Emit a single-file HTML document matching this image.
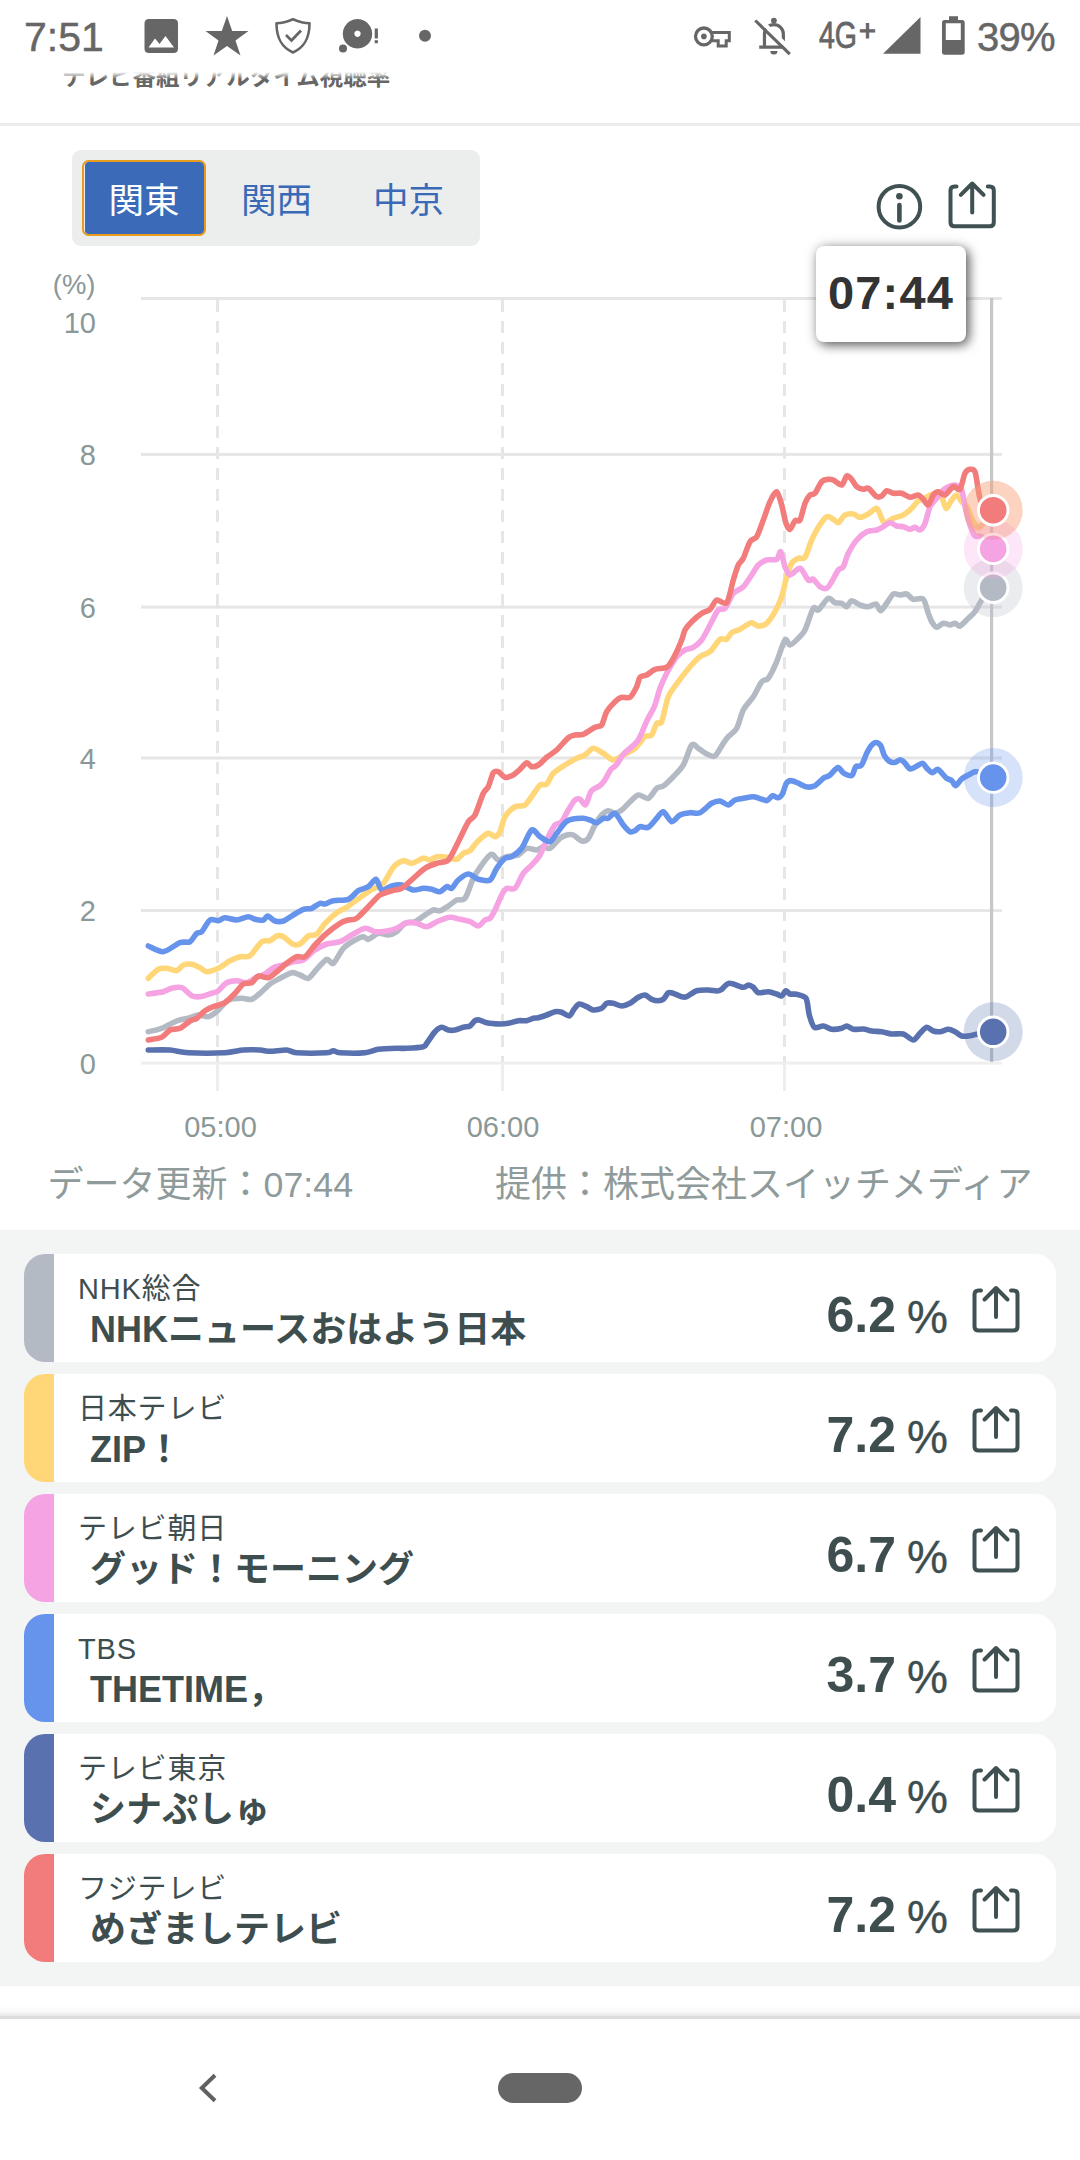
<!DOCTYPE html>
<html lang="ja"><head><meta charset="utf-8"><title>テレビ番組リアルタイム視聴率</title>
<style>
html,body{margin:0;padding:0;}
body{width:1080px;height:2160px;position:relative;overflow:hidden;background:#fff;font-family:"Liberation Sans","Noto Sans CJK JP",sans-serif;}
.abs{position:absolute;}
.sb{position:absolute;color:#666;-webkit-text-stroke:.5px #666;font-size:41px;line-height:40px;white-space:nowrap;}
.chart{position:absolute;left:0;top:0;}
.hdr{position:absolute;left:62px;top:61.5px;width:400px;height:30px;font-size:23.5px;line-height:30px;font-weight:bold;color:#666;white-space:nowrap;}
.hdrmask{position:absolute;left:0;top:0;width:1080px;height:80px;background:linear-gradient(#fff 0,#fff 72px,rgba(255,255,255,0) 79px);}
.divider{position:absolute;left:0;top:123px;width:1080px;height:3px;background:#EBEDED;}
.tabs{position:absolute;left:72px;top:150px;width:408px;height:96px;background:#ECEEEE;border-radius:9px;}
.tab{position:absolute;top:10px;height:75px;line-height:83px;font-size:35.6px;color:#3A6AB7;text-align:center;width:123px;white-space:nowrap;}
.tab.on{left:12.5px;top:12px;width:119px;height:71.5px;line-height:79px;background:#3B6AB8;color:#fff;border-radius:3.5px;}
.tab.on::before{content:"";position:absolute;left:-2.2px;top:-2.2px;right:-2.2px;bottom:-2.2px;border:2.2px solid #E79C1E;border-radius:6.5px;}
.tip{position:absolute;left:816px;top:246px;width:150px;height:96px;background:#fff;border-radius:8px;box-shadow:3px 3px 11px rgba(0,0,0,.62),0 0 16px rgba(0,0,0,.10);font-weight:bold;font-size:47px;line-height:93.500px;text-align:center;color:#333;letter-spacing:1.2px;}
.foot{position:absolute;top:1160px;font-size:36px;line-height:50px;color:#8F9B9B;white-space:nowrap;}
.sec{position:absolute;left:0;top:1230px;width:1080px;height:756px;background:#F3F5F5;}
.card{position:absolute;left:24px;width:1032px;height:108px;background:#fff;border-radius:21px;overflow:hidden;color:#3E4E4F;}
.strip{position:absolute;left:0;top:0;width:30px;height:108px;}
.st{position:absolute;left:54px;top:15px;font-size:29px;line-height:40px;letter-spacing:.8px;white-space:nowrap;}
.pr{position:absolute;left:66px;top:52px;font-size:36px;line-height:48px;font-weight:bold;white-space:nowrap;}
.val{position:absolute;right:160px;top:30.5px;font-size:50px;line-height:60px;font-weight:bold;white-space:nowrap;}
.pct{position:absolute;left:883px;top:37px;font-size:46px;-webkit-text-stroke:.4px #3E4E4F;line-height:52px;white-space:nowrap;}
.sh{position:absolute;left:946px;top:30px;}
.navsh{position:absolute;left:0;top:2005px;width:1080px;height:13.5px;background:linear-gradient(rgba(0,0,0,0) 0,rgba(0,0,0,.025) 45%,rgba(0,0,0,.09) 78%,rgba(0,0,0,.135) 82%,rgba(0,0,0,.135) 100%);}
.pill{position:absolute;left:498px;top:2073px;width:84px;height:30px;border-radius:15px;background:#666;}
</style></head><body>
<div class="hdr">テレビ番組リアルタイム視聴率</div>
<div class="hdrmask"></div>
<!-- status bar -->
<div class="sb" style="left:24px;top:17px;">7:51</div>
<svg class="abs" style="left:0;top:0" width="1080" height="72" viewBox="0 0 1080 72" fill="#666">
<path fill-rule="evenodd" d="M149 19 H173.500 Q178 19 178 23.500 V48.500 Q178 53 173.500 53 H149 Q144.500 53 144.500 48.500 V23.500 Q144.500 19 149 19 Z M148.500 47.500 H174 L165.500 36 L159.500 44 L155 38.500 Z"/>
<path d="M227 16 L232.200 31 L248.500 31 L235.500 40.500 L240.500 55.500 L227 46 L213.500 55.500 L218.500 40.500 L205.500 31 L221.800 31 Z"/>
<path fill="none" stroke="#666" stroke-width="2.600" stroke-linejoin="round" d="M293 19.300 Q284 23.300 276.500 23.300 C276.500 39 282 47.500 293 52.500 C304 47.500 309.500 39 309.500 23.300 Q302 23.300 293 19.300 Z"/>
<path fill="none" stroke="#666" stroke-width="2.800" d="M286 35 L291.500 40.500 L301 30.500"/>
<path fill-rule="evenodd" d="M357.500 19 A14.750 14.750 0 1 1 357.490 19 Z M357.500 30.500 A3.200 3.200 0 1 0 357.510 30.500 Z"/>
<circle cx="343" cy="48.500" r="4"/>
<rect x="374.700" y="28.500" width="3.200" height="10"/><rect x="374.700" y="40.200" width="3.200" height="3"/>
<circle cx="425" cy="35.800" r="6"/>
<!-- key -->
<circle cx="703.900" cy="36.400" r="8.400" fill="none" stroke="#666" stroke-width="3.300"/><circle cx="703.900" cy="36.400" r="2.800"/>
<path fill="none" stroke="#666" stroke-width="3" d="M711.800 32.600 H729.300 V40.800 H726.200 V46 H718.200 V40.800 H711.800"/>
<!-- bell off -->
<circle cx="773.900" cy="20.600" r="2.900"/>
<path fill="none" stroke="#666" stroke-width="3.200" d="M759.200 47.200 H788.500 M764.450 47.200 V34 A9.450 9.450 0 0 1 783.350 34 V47.200"/>
<path d="M770.300 51 a3.600 3.600 0 0 0 7.200 0 z"/>
<path stroke="#fff" stroke-width="4.400" d="M754.500 14.500 L795 54.100"/>
<path stroke="#666" stroke-width="3.100" d="M755.300 20.500 L789.800 54.200"/>
<!-- signal -->
<path d="M920.500 17 V53.800 H883 Z"/>
<!-- battery -->
<path fill-rule="evenodd" d="M949 16.200 H958 V20 H962 Q964.700 20 964.700 22.700 V52 Q964.700 54.700 962 54.700 H944.700 Q942 54.700 942 52 V22.700 Q942 20 944.700 20 H949 Z M945.800 23.300 V40 H960.800 V23.300 Z"/>
</svg>
<div class="sb" style="left:819px;top:16px;font-size:37px;transform:scaleX(.77);transform-origin:left;-webkit-text-stroke:.8px #666;">4G</div>
<div class="sb" style="left:859px;top:10.5px;font-size:29px;-webkit-text-stroke:1.1px #666;">+</div>
<div class="sb" style="left:977px;top:17px;font-size:40px;letter-spacing:-.8px;">39%</div>
<div class="divider"></div>
<div class="tabs"><div class="tab on">関東</div><div class="tab" style="left:143px">関西</div><div class="tab" style="left:275px">中京</div></div>
<svg class="abs" style="left:870px;top:176px" width="140" height="60" viewBox="870 176 140 60" fill="none" stroke="#3F5152" stroke-width="4" stroke-linecap="round" stroke-linejoin="round">
<circle cx="899.400" cy="206.700" r="20.800"/><path d="M899.400 205 V220.500" stroke-width="4.600"/><circle cx="899.400" cy="196.300" r="3.300" fill="#3F5152" stroke="none"/>
<path d="M956.500 186.500 H954.500 Q950.500 186.500 950.500 190.500 V222.300 Q950.500 226.300 954.500 226.300 H989.800 Q993.800 226.300 993.800 222.300 V190.500 Q993.800 186.500 989.800 186.500 H987.800"/>
<path d="M972.200 183.500 V212.500 M960.800 194.900 L972.200 183.500 L983.600 194.900"/>
</svg>
<svg class="chart" width="1080" height="1230" viewBox="0 0 1080 1230">
<rect x="141" y="297.0" width="861" height="3" fill="#E6E6E6"/>
<rect x="141" y="452.9" width="861" height="3" fill="#E6E6E6"/>
<rect x="141" y="605.6" width="861" height="3" fill="#E6E6E6"/>
<rect x="141" y="756.5" width="861" height="3" fill="#E6E6E6"/>
<rect x="141" y="909.0" width="861" height="3" fill="#E6E6E6"/>
<rect x="141" y="1061.600" width="861" height="3" fill="#EFEFEF"/>
<line x1="217.5" y1="300" x2="217.5" y2="1062" stroke="#E6E6E6" stroke-width="3" stroke-dasharray="12 9"/>
<line x1="217.5" y1="1062" x2="217.5" y2="1091" stroke="#EEEEEE" stroke-width="3"/>
<line x1="502.5" y1="300" x2="502.5" y2="1062" stroke="#E6E6E6" stroke-width="3" stroke-dasharray="12 9"/>
<line x1="502.5" y1="1062" x2="502.5" y2="1091" stroke="#EEEEEE" stroke-width="3"/>
<line x1="784.5" y1="300" x2="784.5" y2="1062" stroke="#E6E6E6" stroke-width="3" stroke-dasharray="12 9"/>
<line x1="784.5" y1="1062" x2="784.5" y2="1091" stroke="#EEEEEE" stroke-width="3"/>
<g font-family="'Liberation Sans', sans-serif" font-size="29" fill="#8A9898">
<text x="95.500" y="294" text-anchor="end" font-size="27.500">(%)</text>
<text x="96" y="332.5" text-anchor="end">10</text>
<text x="96" y="465" text-anchor="end">8</text>
<text x="96" y="617.5" text-anchor="end">6</text>
<text x="96" y="769" text-anchor="end">4</text>
<text x="96" y="921" text-anchor="end">2</text>
<text x="96" y="1073.5" text-anchor="end">0</text>
<text x="220.5" y="1136.5" text-anchor="middle">05:00</text>
<text x="503" y="1136.5" text-anchor="middle">06:00</text>
<text x="786" y="1136.5" text-anchor="middle">07:00</text>
</g>
<rect x="990" y="298" width="3.200" height="764" fill="#C6C7CB"/>
<path d="M148.3 1031.7 C150.2 1031.2 157.7 1029.8 161.7 1028.3 C165.7 1026.8 173.0 1022.4 176.7 1021.0 C180.4 1019.6 185.3 1019.1 188.3 1018.3 C191.3 1017.5 195.5 1015.2 198.3 1015.0 C201.1 1014.8 205.7 1017.2 208.3 1016.7 C210.9 1016.2 213.9 1014.0 216.7 1011.7 C219.5 1009.4 224.8 1001.9 228.3 1000.0 C231.8 998.1 238.4 998.4 241.7 998.3 C245.0 998.2 249.1 1000.0 251.7 999.3 C254.3 998.6 257.4 995.4 260.0 993.3 C262.6 991.2 267.2 986.1 270.0 984.0 C272.8 981.9 277.0 979.9 280.0 978.3 C283.0 976.7 288.9 973.2 291.7 972.7 C294.5 972.2 297.7 974.2 300.0 975.0 C302.3 975.8 306.0 979.1 308.3 978.3 C310.6 977.5 314.1 972.0 316.7 969.3 C319.3 966.6 324.4 960.1 326.7 959.3 C329.0 958.5 331.0 964.8 333.3 963.3 C335.6 961.8 340.3 951.6 343.3 948.3 C346.3 945.0 352.2 941.6 355.0 940.0 C357.8 938.4 361.4 936.8 363.3 936.7 C365.2 936.6 366.2 939.8 368.3 939.3 C370.4 938.8 375.5 933.9 378.3 933.3 C381.1 932.7 385.7 935.2 388.3 935.0 C390.9 934.8 394.4 933.3 396.7 931.7 C399.0 930.1 402.4 924.7 405.0 923.3 C407.6 921.9 412.2 922.9 415.0 921.7 C417.8 920.5 422.4 916.6 425.0 915.0 C427.6 913.4 431.2 910.6 433.3 910.0 C435.4 909.4 437.9 911.3 440.0 910.7 C442.1 910.1 446.0 907.5 448.3 906.0 C450.6 904.5 454.4 901.1 456.7 900.0 C459.0 898.9 462.7 901.3 465.0 898.3 C467.3 895.3 471.0 883.0 473.3 878.3 C475.6 873.6 479.4 868.3 481.7 865.0 C484.0 861.7 488.4 856.4 490.0 855.0 C491.6 853.6 492.1 854.3 493.3 855.0 C494.5 855.7 496.4 859.8 498.3 860.0 C500.2 860.2 503.9 857.4 506.7 856.7 C509.5 856.0 515.5 856.2 518.3 855.0 C521.1 853.8 524.1 849.0 526.7 848.3 C529.3 847.6 534.4 850.2 536.7 850.0 C539.0 849.8 541.4 846.9 543.3 846.7 C545.2 846.5 547.7 849.5 550.0 848.3 C552.3 847.1 557.7 840.2 560.0 838.3 C562.3 836.4 564.8 835.5 566.7 835.0 C568.6 834.5 571.2 834.2 573.3 835.0 C575.4 835.8 579.6 840.5 581.7 841.0 C583.8 841.5 586.4 840.5 588.3 838.3 C590.2 836.1 593.1 828.3 595.0 825.0 C596.9 821.7 599.8 817.0 601.7 815.0 C603.6 813.0 606.4 810.9 608.3 810.7 C610.2 810.5 613.1 813.4 615.0 813.3 C616.9 813.2 619.6 811.6 621.7 810.0 C623.8 808.4 627.7 803.8 630.0 801.7 C632.3 799.6 635.7 795.5 638.3 795.0 C640.9 794.5 645.7 799.2 648.3 798.3 C650.9 797.4 654.6 790.0 656.7 788.3 C658.8 786.6 661.0 787.6 663.3 786.0 C665.6 784.4 670.5 779.6 673.3 776.7 C676.1 773.8 680.7 769.4 683.3 765.0 C685.9 760.6 689.6 747.3 691.7 745.0 C693.8 742.7 696.2 747.0 698.3 748.3 C700.4 749.6 704.4 752.9 706.7 754.0 C709.0 755.1 712.7 757.5 715.0 756.0 C717.3 754.5 721.4 746.0 723.3 743.3 C725.2 740.6 726.4 738.8 728.3 736.7 C730.2 734.6 734.6 732.0 736.7 728.3 C738.8 724.6 741.0 714.4 743.3 710.0 C745.6 705.6 750.7 700.7 753.3 696.7 C755.9 692.7 759.6 684.3 761.7 681.7 C763.8 679.1 766.2 681.1 768.3 678.3 C770.4 675.5 774.4 667.1 776.7 661.7 C779.0 656.3 783.1 642.3 785.0 640.0 C786.9 637.7 788.1 645.2 790.0 645.0 C791.9 644.8 796.2 640.4 798.3 638.3 C800.4 636.2 802.9 634.2 805.0 630.0 C807.1 625.8 811.4 611.1 813.3 608.3 C815.2 605.5 816.2 611.4 818.3 610.0 C820.4 608.6 826.0 599.3 828.3 598.3 C830.6 597.3 833.1 602.0 835.0 602.7 C836.9 603.4 840.1 602.7 841.7 603.3 C843.3 603.9 845.3 607.1 846.7 606.7 C848.1 606.3 849.8 600.9 851.7 600.7 C853.6 600.5 857.7 604.2 860.0 605.0 C862.3 605.8 866.1 606.8 868.3 606.7 C870.5 606.6 874.3 603.4 876.0 604.0 C877.7 604.6 879.2 610.8 880.7 610.7 C882.2 610.6 884.9 605.6 886.7 603.3 C888.5 601.0 891.4 595.2 893.3 594.0 C895.2 592.8 898.1 595.0 900.0 595.0 C901.9 595.0 904.8 593.4 906.7 594.0 C908.6 594.6 911.0 598.6 913.3 599.3 C915.6 600.0 921.2 597.3 923.3 599.3 C925.4 601.3 927.1 610.2 928.3 613.3 C929.5 616.4 930.5 619.7 931.7 621.7 C932.9 623.7 935.1 627.1 936.7 627.3 C938.3 627.5 941.4 623.6 943.3 623.3 C945.2 623.0 948.4 625.0 950.0 625.0 C951.6 625.0 953.6 623.2 955.0 623.3 C956.4 623.4 958.1 626.7 960.0 626.0 C961.9 625.3 966.2 620.3 968.3 618.3 C970.4 616.3 973.1 614.3 975.0 611.7 C976.9 609.1 979.4 603.4 981.7 600.0 C984.0 596.6 990.3 589.4 991.7 587.7" fill="none" stroke="#B4BAC4" stroke-width="5.600" stroke-linejoin="round" stroke-linecap="round"/>
<path d="M148.3 978.3 C149.7 977.0 155.7 970.7 158.3 969.3 C160.9 967.9 164.1 968.1 166.7 968.3 C169.3 968.5 174.4 971.2 176.7 970.7 C179.0 970.2 181.2 965.9 183.3 965.0 C185.4 964.1 189.4 963.9 191.7 964.3 C194.0 964.7 197.9 966.7 200.0 967.7 C202.1 968.7 204.1 971.6 206.7 971.7 C209.3 971.8 215.0 969.8 218.3 968.3 C221.6 966.8 227.0 962.3 230.0 960.7 C233.0 959.1 237.2 957.4 240.0 956.7 C242.8 956.0 247.0 957.8 250.0 955.7 C253.0 953.6 258.9 943.8 261.7 941.7 C264.5 939.6 267.9 941.5 270.0 940.7 C272.1 939.9 274.8 936.6 276.7 936.0 C278.6 935.4 281.0 935.5 283.3 936.7 C285.6 937.9 291.0 943.3 293.3 944.3 C295.6 945.3 297.9 945.2 300.0 944.0 C302.1 942.8 306.0 937.4 308.3 936.0 C310.6 934.6 314.4 936.1 316.7 934.3 C319.0 932.5 322.2 926.3 325.0 923.3 C327.8 920.3 333.7 914.9 336.7 912.7 C339.7 910.5 343.9 909.1 346.7 907.3 C349.5 905.5 353.4 902.3 356.7 900.0 C360.0 897.7 366.3 893.0 370.0 890.7 C373.7 888.4 380.0 886.6 383.3 883.3 C386.6 880.0 390.5 870.5 393.3 867.3 C396.1 864.1 400.7 861.3 403.3 860.7 C405.9 860.1 408.9 863.6 411.7 863.3 C414.5 863.0 420.7 858.8 423.3 858.3 C425.9 857.8 428.1 860.2 430.0 860.0 C431.9 859.8 434.4 857.1 436.7 856.7 C439.0 856.3 443.9 856.9 446.7 857.3 C449.5 857.7 454.4 859.9 456.7 859.3 C459.0 858.7 461.4 854.5 463.3 853.3 C465.2 852.1 467.9 852.5 470.0 850.7 C472.1 848.9 475.7 843.1 478.3 840.7 C480.9 838.3 486.0 833.9 488.3 833.3 C490.6 832.7 493.4 836.9 495.0 836.7 C496.6 836.5 498.6 834.5 500.0 831.7 C501.4 828.9 502.9 820.2 505.0 816.7 C507.1 813.2 512.2 808.3 515.0 806.7 C517.8 805.1 522.2 807.1 525.0 805.0 C527.8 802.9 532.9 794.5 535.0 791.7 C537.1 788.9 538.4 786.1 540.0 785.0 C541.6 783.9 544.8 785.6 546.7 784.0 C548.6 782.4 550.7 776.0 553.3 773.3 C555.9 770.6 561.7 767.1 565.0 765.0 C568.3 762.9 573.9 759.7 576.7 758.3 C579.5 756.9 582.7 756.4 585.0 755.0 C587.3 753.6 590.7 748.5 593.3 748.3 C595.9 748.1 600.5 751.7 603.3 753.3 C606.1 754.9 610.5 759.8 613.3 760.0 C616.1 760.2 620.3 756.6 623.3 755.0 C626.3 753.4 632.0 750.9 635.0 748.3 C638.0 745.7 642.7 738.6 645.0 736.7 C647.3 734.8 650.1 736.9 651.7 735.0 C653.3 733.1 655.3 725.2 656.7 723.3 C658.1 721.4 660.1 725.4 661.7 721.7 C663.3 718.0 666.0 702.3 668.3 696.7 C670.6 691.1 675.3 685.9 678.3 681.7 C681.3 677.5 687.0 670.2 690.0 666.7 C693.0 663.2 697.2 658.8 700.0 656.7 C702.8 654.6 707.2 654.1 710.0 651.7 C712.8 649.3 717.7 641.0 720.0 639.3 C722.3 637.6 725.1 640.2 726.7 639.3 C728.3 638.4 729.8 634.1 731.7 632.7 C733.6 631.3 737.9 630.4 740.0 629.3 C742.1 628.2 745.1 625.9 746.7 625.0 C748.3 624.1 750.1 622.6 751.7 622.7 C753.3 622.8 756.2 625.9 758.3 626.0 C760.4 626.1 764.4 625.3 766.7 623.3 C769.0 621.3 772.9 615.4 775.0 611.7 C777.1 608.0 780.1 601.6 781.7 596.7 C783.3 591.8 785.3 581.4 786.7 576.7 C788.1 572.0 790.1 565.9 791.7 563.3 C793.3 560.7 796.4 559.1 798.3 558.3 C800.2 557.5 803.1 559.9 805.0 557.3 C806.9 554.7 809.8 544.2 811.7 540.0 C813.6 535.8 816.2 530.6 818.3 527.3 C820.4 524.0 824.6 517.8 826.7 516.7 C828.8 515.6 831.7 518.5 833.3 519.3 C834.9 520.1 836.7 523.3 838.3 522.7 C839.9 522.1 842.9 516.2 845.0 515.0 C847.1 513.8 851.2 513.7 853.3 514.0 C855.4 514.3 857.9 517.3 860.0 517.3 C862.1 517.3 866.0 515.3 868.3 514.0 C870.6 512.7 874.8 507.7 876.7 508.3 C878.6 508.9 880.5 516.2 881.7 518.3 C882.9 520.4 883.4 523.3 885.0 523.3 C886.6 523.3 890.7 519.5 893.3 518.3 C895.9 517.1 900.7 516.4 903.3 515.0 C905.9 513.6 909.6 510.3 911.7 508.3 C913.8 506.3 916.7 502.0 918.3 500.7 C919.9 499.4 921.7 500.1 923.3 499.3 C924.9 498.5 928.1 495.8 930.0 495.0 C931.9 494.2 935.1 493.1 936.7 493.3 C938.3 493.5 940.4 494.6 941.7 496.7 C943.0 498.8 944.6 507.8 946.0 508.3 C947.4 508.8 950.2 501.9 951.7 500.0 C953.2 498.1 955.3 494.8 956.7 495.0 C958.1 495.2 960.3 500.1 961.7 501.7 C963.1 503.3 965.1 503.9 966.7 506.7 C968.3 509.5 971.4 518.8 973.3 521.7 C975.2 524.6 977.4 529.1 980.0 527.3 C982.6 525.5 990.1 511.6 991.7 509.0" fill="none" stroke="#FFD678" stroke-width="5.600" stroke-linejoin="round" stroke-linecap="round"/>
<path d="M148.3 994.0 C150.4 993.7 160.0 992.5 163.3 991.7 C166.6 990.9 169.1 988.9 171.7 988.3 C174.3 987.7 178.9 986.7 181.7 987.7 C184.5 988.7 189.1 994.4 191.7 995.7 C194.3 997.0 197.2 997.0 200.0 996.7 C202.8 996.4 209.1 994.1 211.7 993.3 C214.3 992.5 216.2 992.2 218.3 990.7 C220.4 989.2 224.1 984.1 226.7 982.7 C229.3 981.3 233.9 980.7 236.7 980.7 C239.5 980.7 243.9 983.2 246.7 982.7 C249.5 982.2 254.1 978.5 256.7 977.3 C259.3 976.1 262.7 975.3 265.0 974.0 C267.3 972.7 270.7 969.0 273.3 967.7 C275.9 966.4 280.5 965.8 283.3 965.0 C286.1 964.2 290.5 962.4 293.3 961.7 C296.1 961.0 300.3 961.6 303.3 960.0 C306.3 958.4 311.7 952.2 315.0 950.0 C318.3 947.8 323.2 945.2 326.7 944.0 C330.2 942.8 336.5 943.0 340.0 941.7 C343.5 940.4 348.2 936.9 351.7 935.0 C355.2 933.1 361.7 928.8 365.0 928.3 C368.3 927.8 372.0 931.3 375.0 931.7 C378.0 932.1 383.7 931.5 386.7 931.0 C389.7 930.5 393.9 929.5 396.7 928.3 C399.5 927.1 403.9 923.4 406.7 922.7 C409.5 922.0 413.9 922.7 416.7 923.3 C419.5 923.9 423.7 927.0 426.7 926.7 C429.7 926.4 435.0 922.3 438.3 921.0 C441.6 919.7 447.0 917.5 450.0 917.3 C453.0 917.1 457.2 918.7 460.0 919.3 C462.8 919.9 467.4 920.8 470.0 921.7 C472.6 922.6 476.2 926.2 478.3 926.0 C480.4 925.8 483.4 921.1 485.0 920.0 C486.6 918.9 488.6 919.7 490.0 918.3 C491.4 916.9 493.4 913.3 495.0 910.0 C496.6 906.7 500.1 898.0 501.7 895.0 C503.3 892.0 504.8 889.2 506.7 888.3 C508.6 887.4 512.7 890.4 515.0 888.3 C517.3 886.2 521.0 876.6 523.3 873.3 C525.6 870.0 529.4 867.6 531.7 865.0 C534.0 862.4 537.7 859.0 540.0 855.0 C542.3 851.0 546.2 840.9 548.3 836.7 C550.4 832.5 553.1 827.1 555.0 825.0 C556.9 822.9 559.8 823.8 561.7 821.7 C563.6 819.6 566.4 813.0 568.3 810.0 C570.2 807.0 573.4 801.5 575.0 800.0 C576.6 798.5 578.6 798.6 580.0 799.3 C581.4 800.0 583.9 804.9 585.0 805.0 C586.1 805.1 586.9 802.0 587.8 800.0 C588.7 798.0 589.8 792.7 591.5 790.7 C593.2 788.7 598.0 787.1 599.8 785.7 C601.6 784.3 602.8 782.9 604.4 780.6 C606.0 778.3 609.2 771.6 610.9 769.4 C612.6 767.2 614.7 767.0 616.5 764.8 C618.3 762.6 620.9 757.1 623.9 753.7 C626.9 750.3 634.6 745.4 637.8 740.7 C641.0 736.0 644.7 725.2 647.0 720.4 C649.3 715.6 652.6 711.0 654.4 706.5 C656.2 702.0 658.3 692.9 660.0 688.3 C661.7 683.7 664.4 677.7 666.7 673.3 C669.0 668.9 674.1 660.0 676.7 656.7 C679.3 653.4 682.7 651.3 685.0 650.0 C687.3 648.7 691.0 648.7 693.3 647.3 C695.6 645.9 699.4 643.1 701.7 640.0 C704.0 636.9 707.7 629.2 710.0 625.0 C712.3 620.8 716.2 612.3 718.3 610.0 C720.4 607.7 722.9 610.6 725.0 608.3 C727.1 606.0 730.7 596.3 733.3 593.3 C735.9 590.3 740.7 589.3 743.3 586.7 C745.9 584.1 749.6 578.0 751.7 575.0 C753.8 572.0 756.2 567.1 758.3 565.0 C760.4 562.9 764.1 560.8 766.7 560.0 C769.3 559.2 774.7 560.5 776.7 559.3 C778.7 558.1 779.5 550.7 780.7 551.7 C781.9 552.7 783.7 563.4 785.0 566.7 C786.3 570.0 787.9 574.8 790.0 575.0 C792.1 575.2 797.4 567.6 800.0 568.3 C802.6 569.0 806.4 578.5 808.3 580.0 C810.2 581.5 811.7 578.4 813.3 579.3 C814.9 580.2 818.1 585.4 820.0 586.7 C821.9 588.0 825.1 589.0 826.7 588.3 C828.3 587.6 830.1 584.3 831.7 581.7 C833.3 579.1 836.7 572.1 838.3 570.0 C839.9 567.9 841.9 569.0 843.3 566.7 C844.7 564.4 846.4 557.0 848.3 553.3 C850.2 549.6 854.1 543.0 856.7 540.0 C859.3 537.0 863.9 533.1 866.7 531.7 C869.5 530.3 874.4 530.7 876.7 530.0 C879.0 529.3 881.4 527.7 883.3 526.7 C885.2 525.7 888.1 522.8 890.0 522.7 C891.9 522.6 894.8 525.4 896.7 526.0 C898.6 526.6 901.4 526.2 903.3 526.7 C905.2 527.2 908.4 529.2 910.0 529.3 C911.6 529.4 913.6 527.2 915.0 527.3 C916.4 527.4 918.6 530.6 920.0 530.0 C921.4 529.4 923.6 526.6 925.0 523.3 C926.4 520.0 928.4 510.2 930.0 506.7 C931.6 503.2 934.8 500.6 936.7 498.3 C938.6 496.0 941.7 491.6 943.3 490.0 C944.9 488.4 946.7 487.4 948.3 486.7 C949.9 486.0 953.1 484.5 955.0 485.0 C956.9 485.5 960.3 487.0 961.7 490.0 C963.1 493.0 963.8 501.8 965.0 506.7 C966.2 511.6 968.6 520.9 970.0 525.0 C971.4 529.1 973.4 534.4 975.0 536.0 C976.6 537.6 979.4 535.1 981.7 536.7 C984.0 538.3 990.3 546.2 991.7 547.7" fill="none" stroke="#F5A3E3" stroke-width="5.600" stroke-linejoin="round" stroke-linecap="round"/>
<path d="M148.3 946.0 C150.4 946.8 158.9 952.2 163.3 951.7 C167.7 951.2 176.3 944.1 180.0 942.7 C183.7 941.3 187.7 943.0 190.0 941.7 C192.3 940.4 195.1 934.7 196.7 933.3 C198.3 931.9 199.8 933.6 201.7 931.7 C203.6 929.8 207.7 921.5 210.0 920.0 C212.3 918.5 216.2 921.0 218.3 920.7 C220.4 920.4 222.4 917.8 225.0 917.7 C227.6 917.6 233.4 920.1 236.7 920.0 C240.0 919.9 245.7 916.8 248.3 916.7 C250.9 916.6 252.9 918.8 255.0 919.3 C257.1 919.8 261.5 920.5 263.3 920.0 C265.1 919.5 266.1 915.9 267.7 916.0 C269.3 916.1 272.8 920.3 275.0 921.0 C277.2 921.7 280.7 921.8 283.3 921.0 C285.9 920.2 290.5 916.6 293.3 915.0 C296.1 913.4 300.7 910.2 303.3 909.3 C305.9 908.4 309.4 909.1 311.7 908.3 C314.0 907.5 318.1 903.9 320.0 903.3 C321.9 902.7 323.1 904.4 325.0 904.0 C326.9 903.6 330.0 901.4 333.3 900.7 C336.6 900.0 344.8 900.7 348.3 899.3 C351.8 897.9 355.5 892.5 358.3 890.7 C361.1 888.9 365.8 888.3 368.3 886.7 C370.8 885.1 374.1 878.8 376.0 879.3 C377.9 879.8 379.5 889.1 381.7 890.0 C383.9 890.9 388.9 886.7 391.7 886.0 C394.5 885.3 398.7 884.4 401.7 885.0 C404.7 885.6 410.3 889.5 413.3 890.0 C416.3 890.5 420.7 888.4 423.3 888.3 C425.9 888.2 429.4 888.8 431.7 889.3 C434.0 889.8 437.9 892.1 440.0 891.7 C442.1 891.3 445.1 887.2 446.7 886.7 C448.3 886.2 450.1 889.2 451.7 888.3 C453.3 887.4 456.0 882.0 458.3 880.0 C460.6 878.0 465.5 874.1 468.3 874.0 C471.1 873.9 475.3 878.5 478.3 879.3 C481.3 880.1 487.4 881.5 490.0 880.0 C492.6 878.5 494.6 871.3 496.7 868.3 C498.8 865.3 502.9 859.9 505.0 858.3 C507.1 856.7 509.4 858.1 511.7 856.7 C514.0 855.3 518.9 852.0 521.7 848.3 C524.5 844.6 529.1 831.6 531.7 830.0 C534.3 828.4 537.4 835.1 540.0 836.7 C542.6 838.3 547.7 842.2 550.0 841.7 C552.3 841.2 554.6 836.0 556.7 833.3 C558.8 830.6 562.9 824.7 565.0 822.7 C567.1 820.7 569.1 819.9 571.7 819.3 C574.3 818.7 580.7 818.2 583.3 818.3 C585.9 818.4 588.1 819.4 590.0 820.0 C591.9 820.6 594.8 822.9 596.7 822.7 C598.6 822.5 601.7 818.9 603.3 818.3 C604.9 817.7 606.7 819.0 608.3 818.3 C609.9 817.6 612.9 812.4 615.0 813.3 C617.1 814.2 621.2 822.4 623.3 825.0 C625.4 827.6 628.4 830.9 630.0 831.7 C631.6 832.5 633.6 831.4 635.0 830.7 C636.4 830.0 638.1 827.2 640.0 826.7 C641.9 826.2 646.0 828.5 648.3 827.3 C650.6 826.1 654.6 820.5 656.7 818.3 C658.8 816.1 661.2 811.2 663.3 811.7 C665.4 812.2 669.4 821.2 671.7 821.7 C674.0 822.2 677.4 816.3 680.0 815.0 C682.6 813.7 687.2 813.0 690.0 812.7 C692.8 812.4 697.0 814.0 700.0 812.7 C703.0 811.4 708.9 804.9 711.7 803.3 C714.5 801.7 717.7 800.8 720.0 801.0 C722.3 801.2 726.2 805.1 728.3 805.0 C730.4 804.9 732.9 800.9 735.0 800.0 C737.1 799.1 740.7 798.8 743.3 798.3 C745.9 797.8 751.0 796.7 753.3 796.7 C755.6 796.7 758.1 798.1 760.0 798.6 C761.9 799.1 765.2 801.0 767.0 800.6 C768.8 800.2 771.0 796.2 772.5 795.8 C774.0 795.4 776.6 798.0 778.0 797.8 C779.4 797.6 781.0 796.4 782.2 794.4 C783.4 792.4 785.2 785.2 786.4 783.3 C787.6 781.4 789.0 780.7 790.6 780.6 C792.2 780.5 795.4 781.9 797.5 782.8 C799.6 783.7 803.5 786.2 805.8 786.7 C808.1 787.2 811.7 787.3 814.2 786.1 C816.7 784.9 821.8 779.3 823.9 777.8 C826.0 776.3 827.5 777.0 829.4 775.6 C831.3 774.2 835.9 767.9 837.8 767.5 C839.7 767.1 841.4 771.7 843.3 772.8 C845.2 773.9 850.0 776.5 851.7 775.6 C853.5 774.7 854.4 768.1 855.8 766.7 C857.2 765.3 859.8 767.2 861.4 765.3 C863.0 763.4 865.5 755.5 866.9 752.8 C868.3 750.1 869.8 747.2 871.1 745.8 C872.4 744.4 874.7 742.5 876.1 742.5 C877.5 742.5 879.6 744.0 880.8 745.8 C882.0 747.6 883.2 753.5 884.4 755.6 C885.6 757.7 887.8 760.1 889.2 761.1 C890.6 762.1 893.1 762.7 894.7 762.5 C896.3 762.3 898.9 759.7 900.3 759.7 C901.7 759.7 903.0 761.2 904.4 762.5 C905.8 763.8 908.4 768.3 910.0 768.9 C911.6 769.5 913.9 767.5 915.6 766.7 C917.4 765.9 920.9 763.1 922.5 763.3 C924.1 763.5 925.3 766.8 926.7 768.1 C928.1 769.4 930.6 772.6 932.2 772.8 C933.8 773.0 935.9 768.7 937.8 769.4 C939.7 770.1 944.2 776.2 946.1 777.8 C948.0 779.4 950.3 779.5 951.7 780.6 C953.1 781.7 954.4 785.8 955.8 785.6 C957.2 785.4 959.5 780.8 961.4 779.2 C963.3 777.6 967.6 775.4 969.7 774.4 C971.8 773.4 973.6 771.3 976.7 771.7 C979.8 772.1 989.6 776.4 991.7 777.2" fill="none" stroke="#6694EC" stroke-width="5.600" stroke-linejoin="round" stroke-linecap="round"/>
<path d="M148.3 1050.0 C151.3 1050.0 164.4 1049.6 170.0 1050.0 C175.6 1050.4 180.6 1052.3 188.3 1052.7 C196.0 1053.1 217.3 1053.1 225.0 1052.7 C232.7 1052.3 238.4 1050.4 243.3 1050.0 C248.2 1049.6 256.3 1049.8 260.0 1050.0 C263.7 1050.2 266.3 1051.3 270.0 1051.3 C273.7 1051.3 283.0 1049.8 286.7 1050.0 C290.4 1050.2 291.1 1052.3 296.7 1052.7 C302.3 1053.1 321.6 1053.0 326.7 1052.7 C331.8 1052.4 331.4 1050.7 333.3 1050.7 C335.2 1050.7 335.6 1052.4 340.0 1052.7 C344.4 1053.0 359.6 1053.2 365.0 1052.7 C370.4 1052.2 373.9 1049.9 378.3 1049.3 C382.7 1048.7 392.7 1048.4 396.7 1048.3 C400.7 1048.2 403.0 1048.5 406.7 1048.3 C410.4 1048.1 420.5 1047.4 423.3 1046.7 C426.1 1046.0 425.1 1045.4 426.7 1043.3 C428.3 1041.2 432.9 1033.9 435.0 1031.7 C437.1 1029.5 439.8 1027.5 441.7 1027.3 C443.6 1027.1 446.4 1029.6 448.3 1030.0 C450.2 1030.4 452.9 1030.4 455.0 1030.0 C457.1 1029.6 461.2 1027.9 463.3 1027.3 C465.4 1026.7 468.4 1026.9 470.0 1026.0 C471.6 1025.1 473.7 1021.5 475.0 1020.7 C476.3 1019.9 477.7 1019.7 479.3 1020.0 C480.9 1020.3 483.8 1022.1 486.7 1022.7 C489.6 1023.3 497.0 1023.9 500.0 1024.0 C503.0 1024.1 505.7 1023.8 508.3 1023.3 C510.9 1022.8 515.7 1021.1 518.3 1020.7 C520.9 1020.3 524.6 1021.0 526.7 1020.7 C528.8 1020.4 531.7 1018.7 533.3 1018.3 C534.9 1017.9 536.4 1018.2 538.3 1017.7 C540.2 1017.2 544.4 1015.8 546.7 1015.0 C549.0 1014.2 552.9 1012.1 555.0 1011.7 C557.1 1011.3 559.7 1011.7 561.7 1012.3 C563.7 1012.9 567.6 1016.4 569.3 1016.0 C571.0 1015.6 572.6 1011.0 574.0 1009.3 C575.4 1007.6 577.5 1004.4 579.3 1004.0 C581.1 1003.6 584.7 1005.9 586.7 1006.7 C588.7 1007.5 591.2 1009.8 593.3 1010.0 C595.4 1010.2 599.8 1009.2 601.7 1008.3 C603.6 1007.4 605.1 1004.0 606.7 1003.3 C608.3 1002.6 611.2 1002.9 613.3 1003.3 C615.4 1003.7 619.4 1006.0 621.7 1006.0 C624.0 1006.0 627.7 1004.5 630.0 1003.3 C632.3 1002.1 636.2 998.5 638.3 997.3 C640.4 996.1 643.1 994.7 645.0 995.0 C646.9 995.3 649.8 998.5 651.7 999.3 C653.6 1000.1 656.7 1000.7 658.3 1000.7 C659.9 1000.7 661.9 1000.4 663.3 999.3 C664.7 998.2 666.9 993.5 668.3 992.7 C669.7 991.9 671.4 992.7 673.3 993.3 C675.2 993.9 679.8 996.2 681.7 996.7 C683.6 997.2 684.6 997.5 686.7 996.7 C688.8 995.9 693.7 991.6 696.7 990.7 C699.7 989.8 705.5 990.0 708.3 990.0 C711.1 990.0 714.8 991.1 716.7 991.0 C718.6 990.9 719.9 990.4 721.7 989.3 C723.5 988.2 726.3 983.6 729.3 983.3 C732.3 983.0 740.6 987.1 743.3 987.3 C746.0 987.5 746.9 985.0 748.3 985.0 C749.7 985.0 751.9 986.2 753.3 987.3 C754.7 988.4 756.2 992.1 758.3 992.7 C760.4 993.3 765.7 991.5 768.3 991.7 C770.9 991.9 774.8 993.4 776.7 994.0 C778.6 994.6 780.4 996.5 781.7 996.0 C783.0 995.5 784.5 991.0 785.7 990.7 C786.9 990.4 788.5 993.5 790.0 994.0 C791.5 994.5 794.5 993.7 796.7 994.3 C798.9 994.9 804.2 995.4 806.0 998.3 C807.8 1001.2 808.1 1010.9 809.3 1015.0 C810.5 1019.1 812.3 1025.8 814.3 1027.3 C816.3 1028.8 820.9 1025.7 823.3 1026.0 C825.7 1026.3 829.1 1029.0 831.7 1029.3 C834.3 1029.6 839.6 1028.8 841.7 1028.3 C843.8 1027.8 845.1 1025.9 846.7 1026.0 C848.3 1026.1 851.0 1028.9 853.3 1029.3 C855.6 1029.7 860.7 1028.8 863.3 1029.0 C865.9 1029.2 869.1 1030.6 871.7 1031.0 C874.3 1031.4 878.9 1031.3 881.7 1031.7 C884.5 1032.1 888.7 1033.7 891.7 1034.0 C894.7 1034.3 900.3 1033.2 903.3 1034.0 C906.3 1034.8 911.0 1040.1 913.3 1040.0 C915.6 1039.9 918.1 1035.1 920.0 1033.3 C921.9 1031.5 924.8 1027.6 926.7 1027.3 C928.6 1027.0 931.4 1030.4 933.3 1031.0 C935.2 1031.6 937.9 1031.9 940.0 1031.7 C942.1 1031.5 946.2 1029.3 948.3 1029.3 C950.4 1029.3 953.1 1030.8 955.0 1031.7 C956.9 1032.6 959.8 1035.4 961.7 1036.0 C963.6 1036.6 966.2 1036.2 968.3 1036.0 C970.4 1035.8 973.4 1034.9 976.7 1034.3 C980.0 1033.7 989.6 1032.1 991.7 1031.7" fill="none" stroke="#5A71AF" stroke-width="5.600" stroke-linejoin="round" stroke-linecap="round"/>
<path d="M148.3 1040.0 C150.2 1039.6 158.7 1038.7 161.7 1037.3 C164.7 1035.9 167.4 1031.3 170.0 1030.0 C172.6 1028.7 177.2 1029.6 180.0 1028.3 C182.8 1027.0 187.7 1022.4 190.0 1021.0 C192.3 1019.6 194.6 1019.7 196.7 1018.3 C198.8 1016.9 202.7 1012.3 205.0 1010.7 C207.3 1009.1 210.5 1007.8 213.3 1006.7 C216.1 1005.6 222.0 1004.6 225.0 1002.7 C228.0 1000.8 232.4 995.9 235.0 993.3 C237.6 990.7 241.0 985.5 243.3 984.0 C245.6 982.5 249.6 983.8 251.7 982.7 C253.8 981.6 256.0 976.7 258.3 976.0 C260.6 975.3 265.7 978.3 268.3 977.7 C270.9 977.1 274.1 973.7 276.7 971.7 C279.3 969.7 283.9 965.4 286.7 963.3 C289.5 961.2 294.1 957.6 296.7 956.7 C299.3 955.8 302.4 958.3 305.0 956.7 C307.6 955.1 312.0 948.3 315.0 945.0 C318.0 941.7 323.2 936.3 326.7 933.3 C330.2 930.3 337.0 925.2 340.0 923.3 C343.0 921.4 346.0 920.7 348.3 920.0 C350.6 919.3 353.7 920.4 356.7 918.3 C359.7 916.2 366.7 908.3 370.0 905.0 C373.3 901.7 377.0 897.0 380.0 895.0 C383.0 893.0 388.7 891.6 391.7 890.7 C394.7 889.8 398.7 890.0 401.7 888.3 C404.7 886.6 410.0 881.1 413.3 878.3 C416.6 875.5 421.7 870.4 425.0 868.3 C428.3 866.2 433.4 864.5 436.7 863.3 C440.0 862.1 445.3 863.0 448.3 860.0 C451.3 857.0 455.5 847.1 458.3 841.7 C461.1 836.3 466.0 825.4 468.3 821.7 C470.6 818.0 472.9 819.0 475.0 815.0 C477.1 811.0 481.4 797.3 483.3 793.3 C485.2 789.3 486.9 789.6 488.3 786.7 C489.7 783.8 491.9 774.8 493.3 772.7 C494.7 770.6 496.7 771.1 498.3 771.7 C499.9 772.3 502.9 776.8 505.0 777.3 C507.1 777.8 511.2 776.1 513.3 775.0 C515.4 773.9 518.1 771.0 520.0 769.3 C521.9 767.6 525.1 763.1 526.7 762.7 C528.3 762.3 530.1 766.4 531.7 766.7 C533.3 767.0 536.2 766.3 538.3 765.0 C540.4 763.7 544.1 759.4 546.7 757.3 C549.3 755.2 553.7 752.7 556.7 750.0 C559.7 747.3 565.7 739.8 568.3 737.7 C570.9 735.6 572.9 735.5 575.0 735.0 C577.1 734.5 580.5 735.4 583.3 734.3 C586.1 733.2 592.4 728.6 595.0 727.3 C597.6 726.0 600.1 727.2 601.7 725.0 C603.3 722.8 604.8 715.0 606.7 711.7 C608.6 708.4 612.9 703.7 615.0 701.7 C617.1 699.7 619.6 697.9 621.7 697.3 C623.8 696.7 627.9 698.8 630.0 697.3 C632.1 695.8 635.3 689.5 636.7 686.7 C638.1 683.9 638.6 678.9 640.0 677.3 C641.4 675.7 644.6 676.1 646.7 675.0 C648.8 673.9 652.2 670.4 655.0 669.3 C657.8 668.2 664.1 668.8 666.7 667.3 C669.3 665.8 671.2 662.1 673.3 658.3 C675.4 654.5 680.1 644.0 681.7 640.0 C683.3 636.0 683.6 632.6 685.0 630.0 C686.4 627.4 689.4 624.0 691.7 621.7 C694.0 619.4 699.1 615.0 701.7 613.3 C704.3 611.6 707.9 611.2 710.0 609.3 C712.1 607.4 714.4 600.9 716.7 600.0 C719.0 599.1 724.4 605.5 726.7 602.7 C729.0 599.9 731.7 585.3 733.3 580.0 C734.9 574.7 736.9 568.0 738.3 565.0 C739.7 562.0 741.7 561.6 743.3 558.3 C744.9 555.0 748.1 544.7 750.0 541.7 C751.9 538.7 754.8 539.7 756.7 536.7 C758.6 533.7 761.4 524.9 763.3 520.0 C765.2 515.1 768.1 505.7 770.0 501.7 C771.9 497.7 775.1 491.2 776.7 491.7 C778.3 492.2 780.4 500.6 781.7 505.0 C783.0 509.4 784.8 519.9 786.0 523.3 C787.2 526.7 788.7 529.7 790.0 529.3 C791.3 528.9 793.6 522.0 795.0 520.7 C796.4 519.4 798.6 522.4 800.0 520.0 C801.4 517.6 803.6 506.8 805.0 503.3 C806.4 499.8 808.6 496.4 810.0 495.0 C811.4 493.6 813.4 495.2 815.0 493.3 C816.6 491.4 819.8 483.7 821.7 481.7 C823.6 479.7 826.7 479.5 828.3 479.3 C829.9 479.1 831.4 479.2 833.3 480.0 C835.2 480.8 839.8 485.6 841.7 485.0 C843.6 484.4 845.3 476.8 846.7 476.0 C848.1 475.2 850.3 477.8 851.7 479.3 C853.1 480.8 855.1 485.3 856.7 486.7 C858.3 488.1 861.7 489.1 863.3 489.3 C864.9 489.5 866.4 487.3 868.3 488.3 C870.2 489.3 874.8 495.6 876.7 496.7 C878.6 497.8 880.3 496.8 881.7 496.0 C883.1 495.2 885.1 491.1 886.7 490.7 C888.3 490.3 891.2 492.9 893.3 493.3 C895.4 493.7 899.4 492.7 901.7 493.3 C904.0 493.9 907.7 497.1 910.0 497.3 C912.3 497.5 916.4 494.7 918.3 495.0 C920.2 495.3 921.9 497.9 923.3 499.3 C924.7 500.7 926.9 505.6 928.3 505.0 C929.7 504.4 931.9 496.9 933.3 495.0 C934.7 493.1 936.7 491.7 938.3 491.7 C939.9 491.7 942.9 495.7 945.0 495.0 C947.1 494.3 951.2 487.5 953.3 486.7 C955.4 485.9 958.4 491.2 960.0 489.3 C961.6 487.4 963.6 476.1 965.0 473.3 C966.4 470.5 968.6 469.5 970.0 469.3 C971.4 469.1 973.8 468.8 975.0 471.7 C976.2 474.6 977.4 485.6 978.3 490.0 C979.2 494.4 979.8 500.6 981.7 503.3 C983.6 506.0 990.3 508.2 991.7 509.0" fill="none" stroke="#F27B7B" stroke-width="5.600" stroke-linejoin="round" stroke-linecap="round"/>
<circle cx="993.200" cy="587.7" r="29.500" fill="#B4BAC4" fill-opacity="0.27"/>
<circle cx="993.200" cy="587.7" r="14.750" fill="#B4BAC4" stroke="#fff" stroke-width="2.900"/>
<circle cx="993.200" cy="510.2" r="29.500" fill="#FFD678" fill-opacity="0.27"/>
<circle cx="993.200" cy="510.2" r="14.750" fill="#FFD678" stroke="#fff" stroke-width="2.900"/>
<circle cx="993.200" cy="548.9" r="29.500" fill="#F5A3E3" fill-opacity="0.27"/>
<circle cx="993.200" cy="548.9" r="14.750" fill="#F5A3E3" stroke="#fff" stroke-width="2.900"/>
<circle cx="993.200" cy="777.6" r="29.500" fill="#6694EC" fill-opacity="0.27"/>
<circle cx="993.200" cy="777.6" r="14.750" fill="#6694EC" stroke="#fff" stroke-width="2.900"/>
<circle cx="993.200" cy="1031.8" r="29.500" fill="#5A71AF" fill-opacity="0.27"/>
<circle cx="993.200" cy="1031.8" r="14.750" fill="#5A71AF" stroke="#fff" stroke-width="2.900"/>
<circle cx="993.200" cy="510.2" r="29.500" fill="#F27B7B" fill-opacity="0.27"/>
<circle cx="993.200" cy="510.2" r="14.750" fill="#F27B7B" stroke="#fff" stroke-width="2.900"/>
</svg>
<div class="tip">07:44</div>
<div class="foot" style="left:47.500px;">データ更新：<span style="font-size:35.800px">07:44</span></div>
<div class="foot" style="left:495px;">提供：株式会社スイッチメディア</div>
<div class="sec"></div>
<div class="card" style="top:1254px"><div class="strip" style="background:#B4BAC4"></div><div class="st">NHK総合</div><div class="pr">NHKニュースおはよう日本</div><div class="val">6.2</div><div class="pct">%</div><svg class="sh" width="52" height="52" viewBox="0 0 52 52" fill="none" stroke="#3F5152" stroke-width="4" stroke-linecap="round" stroke-linejoin="round"><path d="M11 6.5 H8.5 Q4.500 6.500 4.500 10.500 V42.500 Q4.500 46.500 8.500 46.500 H43.500 Q47.500 46.500 47.500 42.500 V10.500 Q47.500 6.500 43.500 6.500 H41"/><path d="M26 4 V33 M14.500 15.500 L26 4 L37.500 15.500"/></svg></div>
<div class="card" style="top:1374px"><div class="strip" style="background:#FFD678"></div><div class="st">日本テレビ</div><div class="pr">ZIP！</div><div class="val">7.2</div><div class="pct">%</div><svg class="sh" width="52" height="52" viewBox="0 0 52 52" fill="none" stroke="#3F5152" stroke-width="4" stroke-linecap="round" stroke-linejoin="round"><path d="M11 6.5 H8.5 Q4.500 6.500 4.500 10.500 V42.500 Q4.500 46.500 8.500 46.500 H43.500 Q47.500 46.500 47.500 42.500 V10.500 Q47.500 6.500 43.500 6.500 H41"/><path d="M26 4 V33 M14.500 15.500 L26 4 L37.500 15.500"/></svg></div>
<div class="card" style="top:1494px"><div class="strip" style="background:#F5A3E3"></div><div class="st">テレビ朝日</div><div class="pr">グッド！モーニング</div><div class="val">6.7</div><div class="pct">%</div><svg class="sh" width="52" height="52" viewBox="0 0 52 52" fill="none" stroke="#3F5152" stroke-width="4" stroke-linecap="round" stroke-linejoin="round"><path d="M11 6.5 H8.5 Q4.500 6.500 4.500 10.500 V42.500 Q4.500 46.500 8.500 46.500 H43.500 Q47.500 46.500 47.500 42.500 V10.500 Q47.500 6.500 43.500 6.500 H41"/><path d="M26 4 V33 M14.500 15.500 L26 4 L37.500 15.500"/></svg></div>
<div class="card" style="top:1614px"><div class="strip" style="background:#6694EC"></div><div class="st">TBS</div><div class="pr">THETIME，</div><div class="val">3.7</div><div class="pct">%</div><svg class="sh" width="52" height="52" viewBox="0 0 52 52" fill="none" stroke="#3F5152" stroke-width="4" stroke-linecap="round" stroke-linejoin="round"><path d="M11 6.5 H8.5 Q4.500 6.500 4.500 10.500 V42.500 Q4.500 46.500 8.500 46.500 H43.500 Q47.500 46.500 47.500 42.500 V10.500 Q47.500 6.500 43.500 6.500 H41"/><path d="M26 4 V33 M14.500 15.500 L26 4 L37.500 15.500"/></svg></div>
<div class="card" style="top:1734px"><div class="strip" style="background:#5A71AF"></div><div class="st">テレビ東京</div><div class="pr">シナぷしゅ</div><div class="val">0.4</div><div class="pct">%</div><svg class="sh" width="52" height="52" viewBox="0 0 52 52" fill="none" stroke="#3F5152" stroke-width="4" stroke-linecap="round" stroke-linejoin="round"><path d="M11 6.5 H8.5 Q4.500 6.500 4.500 10.500 V42.500 Q4.500 46.500 8.500 46.500 H43.500 Q47.500 46.500 47.500 42.500 V10.500 Q47.500 6.500 43.500 6.500 H41"/><path d="M26 4 V33 M14.500 15.500 L26 4 L37.500 15.500"/></svg></div>
<div class="card" style="top:1854px"><div class="strip" style="background:#F27B7B"></div><div class="st">フジテレビ</div><div class="pr">めざましテレビ</div><div class="val">7.2</div><div class="pct">%</div><svg class="sh" width="52" height="52" viewBox="0 0 52 52" fill="none" stroke="#3F5152" stroke-width="4" stroke-linecap="round" stroke-linejoin="round"><path d="M11 6.5 H8.5 Q4.500 6.500 4.500 10.500 V42.500 Q4.500 46.500 8.500 46.500 H43.500 Q47.500 46.500 47.500 42.500 V10.500 Q47.500 6.500 43.500 6.500 H41"/><path d="M26 4 V33 M14.500 15.500 L26 4 L37.500 15.500"/></svg></div>
<div class="navsh"></div>
<svg class="abs" style="left:190px;top:2065px" width="40" height="46" viewBox="190 2065 40 46" fill="none" stroke="#616161" stroke-width="4"><path d="M215 2075.300 L201.800 2088 L215 2100.700"/></svg>
<div class="pill"></div>
</body></html>
